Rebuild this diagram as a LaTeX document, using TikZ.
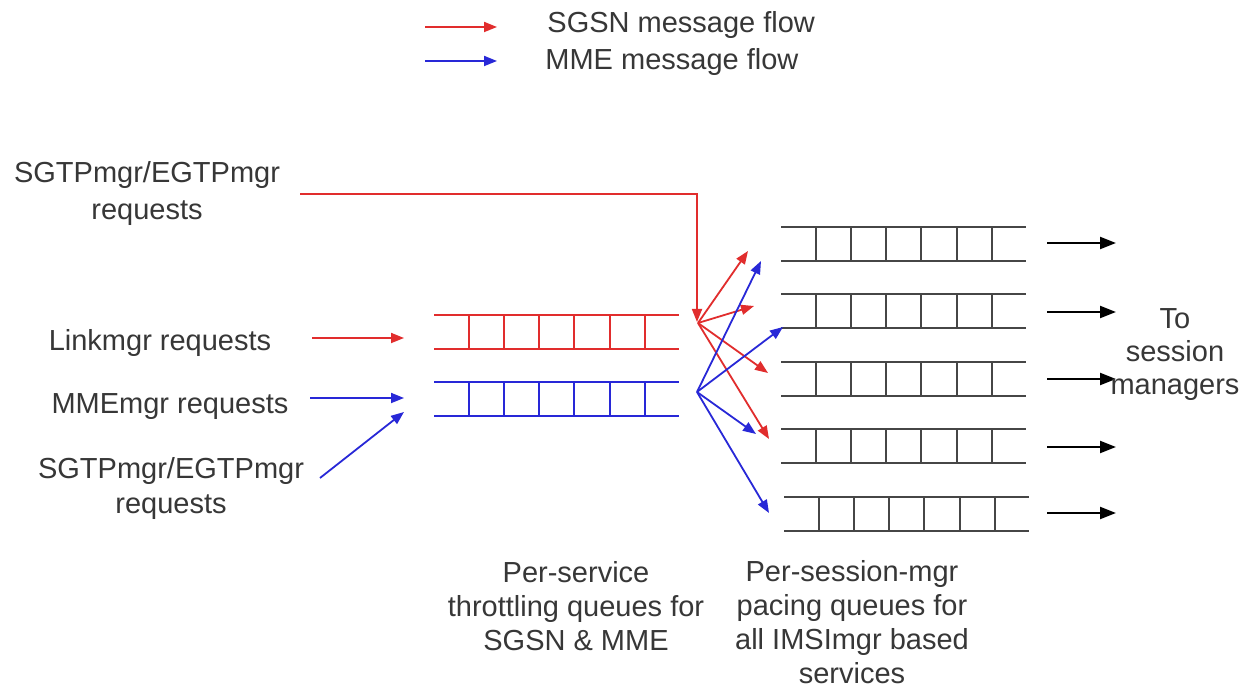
\documentclass[tikz,border=0pt]{standalone}
\usepackage{fontspec}
\setmainfont{Liberation Sans}
\usetikzlibrary{arrows.meta}
\definecolor{flowred}{RGB}{225,45,45}
\definecolor{flowblue}{RGB}{40,40,215}
\definecolor{qgray}{RGB}{70,70,70}
\definecolor{txtgray}{RGB}{55,55,55}
\newcommand{\drawqueue}[3]{%
  \draw[qline,#3] (#1,#2) -- ++(245,0) (#1,#2+34) -- ++(245,0);
  \foreach \dx in {35,70,105,140,176,211}{\draw[qline,#3] (#1+\dx,#2) -- ++(0,34);}
}
\begin{document}
\begin{tikzpicture}[x=0.5pt,y=-0.5pt,
  lbl/.style={text=txtgray,font=\fontsize{14.5pt}{17.5pt}\selectfont,align=center,inner sep=0pt},
  qline/.style={line width=1.2pt,qgray},
  tip/.style={-{Triangle[length=6.5pt,width=5pt]}},
  rflow/.style={tip,line width=0.9pt,flowred},
  bflow/.style={tip,line width=0.9pt,flowblue},
  kflow/.style={-{Triangle[length=8pt,width=6pt]},line width=1.1pt,black}]
\useasboundingbox (0,0) rectangle (1246,688);
\fill[white] (0,0) rectangle (1246,688);

% legend
\coordinate (lr1) at (425,27); \coordinate (lr2) at (497,27);
\coordinate (lb1) at (425,61); \coordinate (lb2) at (497,61);
\draw[rflow] (lr1) -- (lr2);
\draw[bflow] (lb1) -- (lb2);
\node[lbl,anchor=west] (legsgsn) at (547,25) {SGSN message flow};
\node[lbl,anchor=west] (legmme) at (545,62) {MME message flow};

% left labels
\node[lbl,font=\fontsize{14.5pt}{18.5pt}\selectfont] (sgtp1) at (147,194) {SGTPmgr/EGTPmgr\\requests};
\node[lbl] (link) at (160,343) {Linkmgr requests};
\node[lbl] (mmemgr) at (170,407) {MMEmgr requests};
\node[lbl] (sgtp2) at (171,489) {SGTPmgr/EGTPmgr\\requests};

% per-service queues
\drawqueue{434}{315}{flowred}
\drawqueue{434}{382}{flowblue}

% per-session queues
\foreach \yy in {227,294,362,429}{\drawqueue{781}{\yy}{}}
\drawqueue{784}{497}{}

% input arrows
\coordinate (s1a) at (300,194);
\coordinate (s1b) at (697,194);
\coordinate (s1c) at (697,322);
\draw[rflow] (s1a) -- (s1b) -- (s1c);
\coordinate (la) at (312,338); \coordinate (lb) at (404,338);
\draw[rflow] (la) -- (lb);
\coordinate (ma) at (310,398); \coordinate (mb) at (404,398);
\draw[bflow] (ma) -- (mb);
\coordinate (sa) at (320,478); \coordinate (sb) at (404,412);
\draw[bflow] (sa) -- (sb);

% fan-out red
\coordinate (rf) at (698,323);
\coordinate (rt1) at (748,251);
\coordinate (rt2) at (754,306);
\coordinate (rt3) at (768,373);
\coordinate (rt4) at (769,439);
\foreach \t in {rt1,rt2,rt3,rt4}{\draw[rflow] (rf) -- (\t);}

% fan-out blue
\coordinate (bf) at (697,392);
\coordinate (bt1) at (761,261);
\coordinate (bt2) at (783,327);
\coordinate (bt3) at (756,434);
\coordinate (bt4) at (769,513);
\foreach \t in {bt1,bt2,bt3,bt4}{\draw[bflow] (bf) -- (\t);}

% output arrows
\foreach \yy/\nm in {243/o1,312/o2,379/o3,447/o4,513/o5}{
  \coordinate (\nm a) at (1047,\yy); \coordinate (\nm b) at (1116,\yy);
  \draw[kflow] (\nm a) -- (\nm b);
}

\node[lbl,font=\fontsize{14.5pt}{16.5pt}\selectfont] (tosm) at (1175,355) {To\\session\\managers};

% bottom labels
\node[lbl,font=\fontsize{14.5pt}{17pt}\selectfont] (perservice) at (576,606) {Per-service\\throttling queues for\\SGSN \& MME};
\node[lbl,font=\fontsize{14.5pt}{17pt}\selectfont] (persession) at (852,622) {Per-session-mgr\\pacing queues for\\all IMSImgr based\\services};
\end{tikzpicture}
\end{document}
